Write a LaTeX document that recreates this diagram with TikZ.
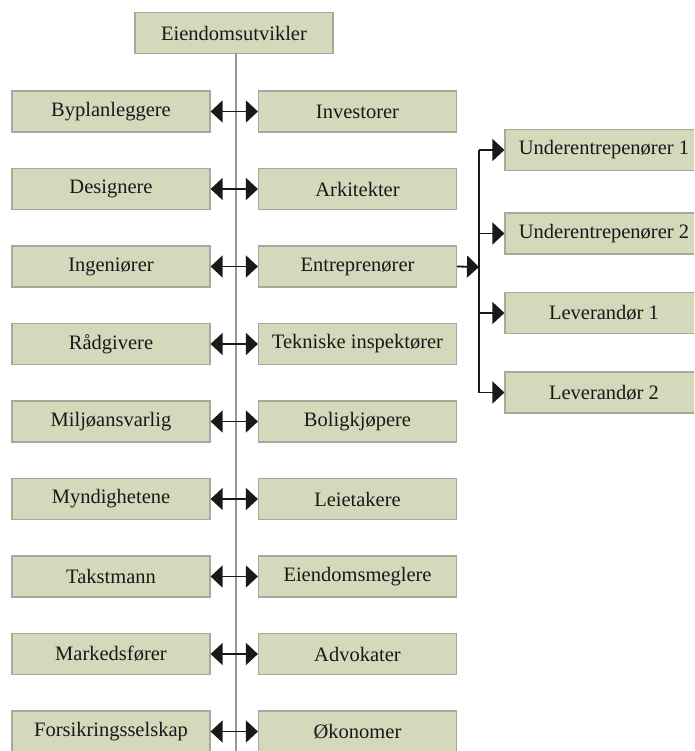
\documentclass[tikz,border=0pt]{standalone}
\usepackage{fontspec}
\setmainfont{Liberation Serif}
\usetikzlibrary{arrows.meta}
\definecolor{boxfill}{RGB}{213,216,186}
\definecolor{boxline}{RGB}{168,168,156}
\definecolor{spine}{RGB}{150,150,150}
\definecolor{arrowink}{RGB}{25,25,25}
\tikzset{
  x=1pt, y=-1pt,
  actor/.style={draw=boxline, line width=1.2pt, fill=boxfill, minimum width=198pt,
    minimum height=41pt, inner sep=0pt, text=black!90,
    font=\fontsize{20.5}{23}\selectfont},
  twoway/.style={draw=arrowink, line width=1.8pt, {Triangle[length=12pt,width=22pt]}-{Triangle[length=12pt,width=22pt]}},
  oneway/.style={draw=arrowink, line width=1.8pt, -{Triangle[length=12pt,width=22pt]}},
  branch/.style={draw=arrowink, line width=1.8pt},
}
\begin{document}
\begin{tikzpicture}
\useasboundingbox (0,0) rectangle (694,751);
\begin{scope}
\clip (0,0) rectangle (694,751);
% central spine
\coordinate (spinebot) at (236,760);
\node[actor] (top) at (234,33) {Eiendomsutvikler};
\coordinate (spinetop) at (236,53);
\draw[spine, line width=2pt] (spinetop) -- (spinebot);

% left and right columns
\foreach \i/\l/\r in {0/Byplanleggere/Investorer,
                      1/Designere/Arkitekter,
                      2/Ingeniører/Entreprenører,
                      3/Rådgivere/Tekniske inspektører,
                      4/Miljøansvarlig/Boligkjøpere,
                      5/Myndighetene/Leietakere,
                      6/Takstmann/Eiendomsmeglere,
                      7/Markedsfører/Advokater,
                      8/Forsikringsselskap/Økonomer}{
  \node[actor] (L\i) at (111,111.5+77.5*\i) {\l};
  \node[actor] (R\i) at (357.5,111.5+77.5*\i) {\r};
  \draw[twoway] (L\i.east) -- (R\i.west);
}

% contractor's subcontractors and suppliers
\node[actor] (S1) at (604,150) {Underentrepenører 1};
\node[actor] (S2) at (604,233.5) {Underentrepenører 2};
\node[actor] (S3) at (604,313) {Leverandør 1};
\node[actor] (S4) at (604,392.5) {Leverandør 2};
\coordinate (fork) at (479,267);
\coordinate (forktop) at (479,150);
\coordinate (forkbot) at (479,392.5);
\draw[oneway] (R2.east) -- (fork);
\draw[branch] (forktop) -- (forkbot);
\foreach \s in {1,2,3,4}{
  \draw[oneway] (forktop|-S\s.west) -- (S\s.west);
}
\end{scope}
\end{tikzpicture}
\end{document}
